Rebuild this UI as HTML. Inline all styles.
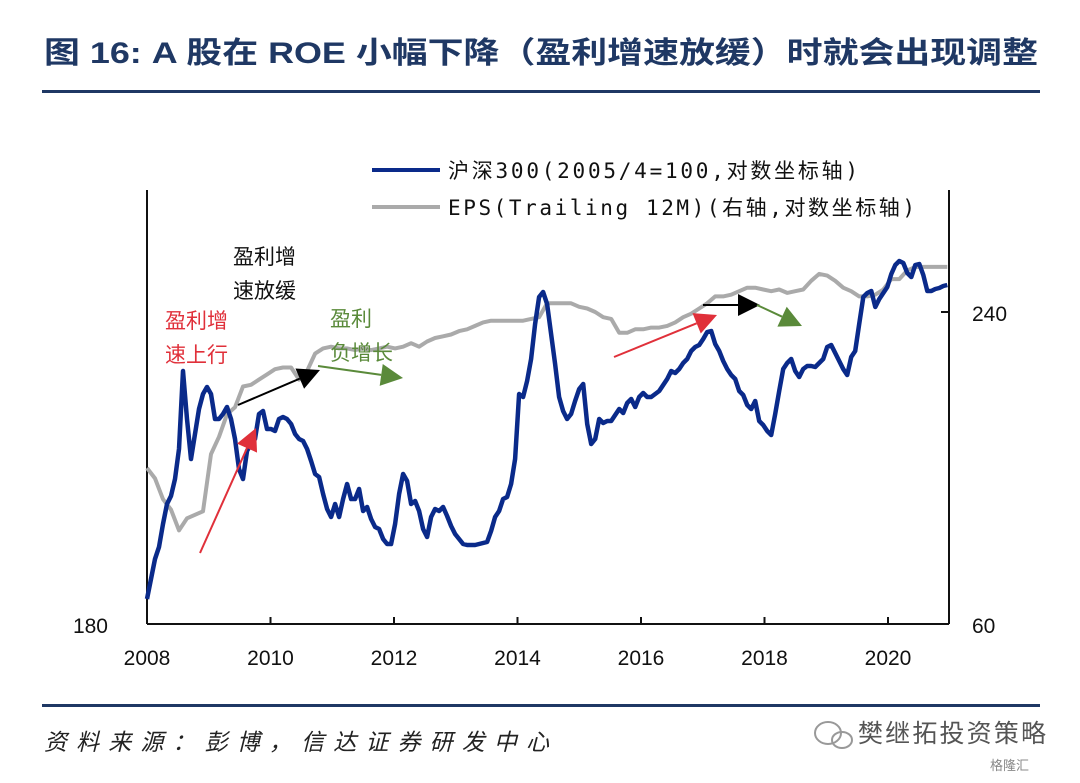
<!DOCTYPE html>
<html><head><meta charset="utf-8">
<style>
body{margin:0;background:#fff;}
svg text{font-family:"Liberation Sans","Noto Sans CJK SC",sans-serif;}
svg text.mono{font-family:"DejaVu Sans Mono","Noto Sans CJK SC",monospace;}
</style></head>
<body>
<svg id="c" width="1080" height="778" xmlns="http://www.w3.org/2000/svg">
<text x="44" y="63" font-size="30" font-weight="bold" fill="#1f3864" textLength="994" lengthAdjust="spacingAndGlyphs">图 16: A 股在 ROE 小幅下降（盈利增速放缓）时就会出现调整</text>
<rect x="42" y="90" width="998" height="3" fill="#1f3864"/>
<rect x="42" y="704" width="998" height="3" fill="#1f3864"/>
<text x="44" y="750" font-size="23" font-style="italic" fill="#222" textLength="505">资料来源：彭博，信达证券研发中心</text>
<g>
<ellipse cx="828" cy="733" rx="13" ry="11" fill="none" stroke="#999" stroke-width="2"/>
<ellipse cx="842" cy="740" rx="10" ry="8" fill="none" stroke="#999" stroke-width="2"/>
<text x="858" y="742" font-size="25" fill="#555" textLength="188">樊继拓投资策略</text>
<text x="990" y="770" font-size="13" fill="#888">格隆汇</text>
</g>
<g>
<line x1="372" y1="170" x2="440" y2="170" stroke="#0a2a8a" stroke-width="4"/>
<text class="mono" x="448" y="178" font-size="21" fill="#111" textLength="410" lengthAdjust="spacing">沪深300(2005/4=100,对数坐标轴)</text>
<line x1="372" y1="207" x2="440" y2="207" stroke="#aaa" stroke-width="4"/>
<text class="mono" x="448" y="215" font-size="21" fill="#111" textLength="467" lengthAdjust="spacing">EPS(Trailing 12M)(右轴,对数坐标轴)</text>
</g>
<g id="plot"></g>
<g font-size="21">
<text x="233" y="264" fill="#111">盈利增</text>
<text x="233" y="298" fill="#111">速放缓</text>
<text x="165" y="328" fill="#e0303a">盈利增</text>
<text x="165" y="362" fill="#e0303a">速上行</text>
<text x="330" y="326" fill="#5a8a3a">盈利</text>
<text x="330" y="360" fill="#5a8a3a">负增长</text>
</g>
<g id="arrows"></g>
</svg>
<script>
const blueVals=[205,225,245,257,280,300,308,325,355,433,385,345,370,395,410,417,410,385,385,390,397,385,365,335,325,353,360,365,390,393,375,375,373,385,387,385,380,370,365,363,355,343,330,327,310,295,287,300,287,305,320,305,305,315,293,297,285,277,275,265,260,260,280,310,330,323,300,303,293,275,267,287,295,293,297,288,278,270,265,260,259,259,259,260,261,262,273,287,293,305,307,320,345,410,407,423,445,480,507,512,500,470,440,407,393,385,390,403,415,420,380,360,365,385,381,383,383,389,395,391,401,405,397,407,411,407,407,410,413,419,425,433,431,435,441,445,453,457,459,465,472,473,460,453,443,435,429,425,413,409,399,395,403,383,379,373,369,390,413,435,441,445,433,427,435,438,438,437,441,445,457,459,451,443,435,429,447,453,480,507,511,513,497,505,511,517,530,539,543,541,531,527,539,540,529,513,513,515,516,518,519];
const epsVals=[150,144,132,126,114,121,123,125,158,168,181,185,197,198,201,204,207,208,208,201,206,216,219,220,219,219,218,219,218,219,220,219,220,222,220,223,225,226,227,229,230,232,234,235,235,235,235,235,236,237,245,245,245,245,243,242,240,237,236,228,228,230,230,231,231,232,234,237,239,242,245,249,249,250,252,254,254,253,252,253,251,252,253,258,262,261,258,254,252,249,249,250,253,259,259,264,266,266,266,266,266];
const xTicks=[2008,2010,2012,2014,2016,2018,2020];
const leftTicks=[180];
const rightTicks=[60,240];
const startYear=2008, endYear=2020.96;
const X0=147,X1=949,Ybot=624,Ytop=190;
const xScale=yr=>X0+(yr-2008)*61.75;
const yL=v=>Ybot-(v-180);
const yR=v=>Ybot-(v-60)/0.5769;
const NS="http://www.w3.org/2000/svg";
const plot=document.getElementById('plot');
function mk(tag,attrs,parent){const e=document.createElementNS(NS,tag);for(const k in attrs)e.setAttribute(k,attrs[k]);(parent||plot).appendChild(e);return e;}
let ax=mk('line',{x1:X0,y1:Ytop,x2:X0,y2:Ybot,stroke:'#111','stroke-width':2});


let ax2=mk('line',{x1:X1,y1:Ytop,x2:X1,y2:Ybot,stroke:'#111','stroke-width':2});


let ax3=mk('line',{x1:X0,y1:Ybot,x2:X1,y2:Ybot,stroke:'#111','stroke-width':2});


xTicks.forEach(t=>{mk('line',{x1:xScale(t),y1:Ybot-7,x2:xScale(t),y2:Ybot,stroke:'#111','stroke-width':2});
const e=mk('text',{x:xScale(t),y:665,'font-size':21,'text-anchor':'middle',fill:'#111'});e.textContent=t;

});
leftTicks.forEach(t=>{const e=mk('text',{x:108,y:yL(t)+9,'font-size':21,'text-anchor':'end',fill:'#111'});e.textContent=t;

});
rightTicks.forEach(t=>{mk('line',{x1:X1-8,y1:yR(t),x2:X1,y2:yR(t),stroke:'#111','stroke-width':2});const e=mk('text',{x:972,y:yR(t)+9,'font-size':21,fill:'#111'});e.textContent=t;

});
function line(vals,ys,color,w,name){const n=vals.length;const pts=vals.map((v,i)=>xScale(startYear+i*(endYear-startYear)/(n-1)).toFixed(1)+','+ys(v).toFixed(1)).join(' ');
const p=mk('polyline',{points:pts,fill:'none',stroke:color,'stroke-width':w,'stroke-linejoin':'round'});

}
line(epsVals,yR,'#aaa',4,'eps-line');
line(blueVals,yL,'#0a2a8a',4.5,'csi300-line');
const arrows=document.getElementById('arrows');
function arrow(x1,y1,x2,y2,color,w,name){const a=Math.atan2(y2-y1,x2-x1),L=22,H=11;
const bx=x2-L*Math.cos(a),by=y2-L*Math.sin(a);
mk('line',{x1:x1,y1:y1,x2:bx,y2:by,stroke:color,'stroke-width':w},arrows);
const p=mk('polygon',{points:`${x2},${y2} ${bx+H*Math.sin(a)},${by-H*Math.cos(a)} ${bx-H*Math.sin(a)},${by+H*Math.cos(a)}`,fill:color},arrows);

}
arrow(200,553,256,428,'#e0303a',2,'arrow-rising-1');
arrow(238,405,320,370,'#000',2,'arrow-slowdown-1');
arrow(318,366,403,378,'#5a8a3a',2,'arrow-negative-1');
arrow(614,357,717,315,'#e0303a',2,'arrow-rising-2');
arrow(703,305,760,305,'#000',2,'arrow-slowdown-2');
arrow(757,305,802,326,'#5a8a3a',2,'arrow-negative-2');
</script>
</body></html>
